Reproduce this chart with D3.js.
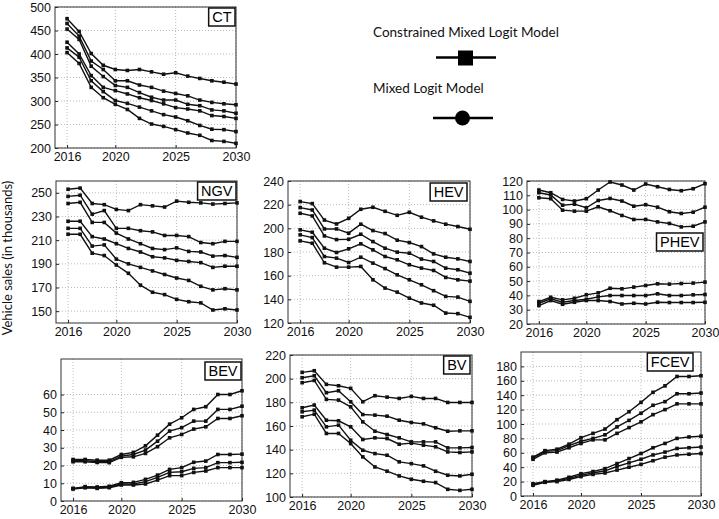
<!DOCTYPE html>
<html><head><meta charset="utf-8">
<script src="https://cdn.jsdelivr.net/npm/d3@7"></script>
<style>body{margin:0;background:#fff}svg{display:block}</style>
</head><body><svg id="c" width="719" height="519"></svg>
<script>
// ---------------- DATA ----------------
const years = [2016,2017,2018,2019,2020,2021,2022,2023,2024,2025,2026,2027,2028,2029,2030];
const xTickYears = [2016,2020,2025,2030];

const ctValues = [
  [475,448,401,376,367,365,367,362,357,360,353,348,343,340,336],
  [465,438,385,367,343,343,334,329,321,316,311,302,297,294,292],
  [453,431,374,352,333,329,318,308,302,302,293,290,281,279,274],
  [425,400,354,329,322,315,307,301,294,286,283,279,269,267,263],
  [413,393,343,320,301,295,287,279,271,266,258,248,240,239,235],
  [403,380,329,307,293,282,263,251,246,239,232,227,216,214,210]
];
const ctTicks = [200,250,300,350,400,450,500];

const ngvValues = [
  [253,254,241,240,236,235,240,239,238,243,242,241.5,240.5,241,241.5],
  [247,248,232,235,220,220,218,217,214,214,213,208,207,209,209],
  [241,242,225,225,216,211,207,203,202,203.5,200.5,200,196.5,197,195.5],
  [226,226,213,211,207,203,200,196,195,193,192,191,187,188,188],
  [220,220,205,206,194,190,187,184,181,178,176,171,168,169,168],
  [215,215,199,197,189,182,172,166,164,160,158,157,151,152,151]
];
const ngvTicks = [150,170,190,210,230,250];

const hevValues = [
  [222.6,220.9,207,203.7,208.5,216.1,217.8,214.4,211,213.6,209.4,206.3,203.5,201.5,199.2],
  [217.5,215.5,199.5,199.5,195.9,203.5,198.1,195.6,190,188,184.6,178.4,175.6,174.2,172],
  [212.7,210.5,193.6,190.5,190.8,195,188.8,183.2,179.9,179,174,172,166.4,165,162.1],
  [198.7,196.7,183.2,179.6,182.7,186.9,181.8,176.2,173.4,169.2,166.4,164.4,158.5,156.5,155.4],
  [194.5,192.2,176.2,174.8,171.1,175.6,170.6,166,160.7,156.5,152.3,147.3,142.5,141.9,138.3],
  [189.4,187.4,170.9,167.2,167.2,167.8,156.5,149.5,146.1,141,136.9,135,128.4,127.9,124.8]
];
const hevTicks = [120,140,160,180,200,220,240];

const phevValues = [
  [113.7,111.8,107.1,106,107.6,113.7,119.3,117.2,113.7,117.9,116,114.1,113.2,114.6,118.1],
  [111.8,110.2,103.1,103.8,101.3,106.4,107.8,106,102.4,103.4,101.7,98.5,97.3,98.2,101.7],
  [108.3,107.6,99.6,98.9,98.9,102,99.2,95.9,93.1,93.1,91.4,90.3,87.9,88.4,91.4],
  [35.7,38.7,36.9,38,40.4,41.8,45,44.6,45.8,46.9,48.1,47.9,48.3,48.6,49.3],
  [34.5,37.6,35.2,36.4,37.3,39,39.9,39.9,39.9,39.9,41.1,39.9,39.9,40.4,40.6],
  [32.9,36.4,33.8,35.2,36.4,36.4,35.7,34,34.5,34,35.2,35,35,35,35.2]
];
const phevTicks = [20,30,40,50,60,70,80,90,100,110,120];

const bevValues = [
  [23.4,23.4,23,23,26.2,27.4,31.1,37.1,43.3,46.9,51.6,53.1,60,60,62.1],
  [22.7,22.7,22.1,22.1,25.3,26.2,28.7,33.7,39.4,41.3,45,45,51.6,51.6,53.4],
  [22.1,22.1,21.7,21.6,24.6,24.9,26.8,30.6,35.6,37.5,40.5,41.8,46.5,46.5,48],
  [7.1,8.1,7.9,8.3,10.3,10.5,12.2,14.6,17.8,18.8,21.8,22.5,26.2,26.2,26.4],
  [7.0,7.7,7.5,7.9,9.6,9.6,10.9,13.3,16.1,16.5,18.4,18.8,21.6,21.6,21.8],
  [6.8,7.5,7.1,7.5,9,9,9.6,11.8,14.3,14.3,16.1,16.9,18.8,18.8,18.8]
];
const bevTicks = [0,10,20,30,40,50,60];

const bvValues = [
  [205.3,206.7,195.2,194,191.8,180.5,185.6,184.4,183.3,185,183.3,183.3,179.9,179.9,179.9],
  [200.8,202.5,188.1,189.8,180.5,169.7,169.2,168.3,164.9,163,161.8,158.5,155.6,155.9,155.9],
  [196.6,198.5,182.5,181.9,176.2,163.5,155.6,152.8,150,146.6,146.6,146.6,141.5,141.5,141.8],
  [175.4,177.7,164.9,164.4,159.3,148.6,150,149.4,144.6,145.5,143.8,142.4,138.1,137.6,138.1],
  [172,173.4,159.3,160.7,148,139.5,136.7,135.3,129.7,128.2,126.3,121.8,118.4,117.8,119.2],
  [167.8,170,153.7,153.7,145.2,133.9,125.4,121.8,117.8,115,113.3,112.2,106.5,105.6,106.5]
];
const bvTicks = [100,120,140,160,180,200,220];

const fcevValues = [
  [54,63,65,72,81,87,93,106,117,130,144,153,166,166,167],
  [53,62,63,70,76,80,85,96,105,115,126,131,142,142,143],
  [51,60,61,67,73,78,78,87,95,103,113,120,128,128,128],
  [17,20,22,26,31,34,38,45,52,59,67,73,80,82,83],
  [16,19.5,21,24.5,29,32,35,41,46,51,57,61,66,67,68],
  [15,19,20,23,27,30,32,36,40,44,49,54,57,58,59]
];
const fcevTicks = [0,20,40,60,80,100,120,140,160,180];

const legendLabels = ["Constrained Mixed Logit Model","Mixed Logit Model"];
const yAxisTitle = "Vehicle sales (in thousands)";

// ---------------- LAYOUT ----------------
const panels = [
  {name:"CT",   values:ctValues,   ticks:ctTicks,   domain:[200,500], x0:55,  x1:236, y0:7,   y1:148, lx:1, ly:1},
  {name:"NGV",  values:ngvValues,  ticks:ngvTicks,  domain:[140,260], x0:56,  x1:237, y0:181, y1:323, lx:1, ly:1},
  {name:"HEV",  values:hevValues,  ticks:hevTicks,  domain:[120,240], x0:288, x1:470, y0:181, y1:323, lx:3, ly:2},
  {name:"PHEV", values:phevValues, ticks:phevTicks, domain:[20,120],  x0:527, x1:705, y0:181, y1:324, lx:2, ly:52},
  {name:"BEV",  values:bevValues,  ticks:bevTicks,  domain:[0,80],    x0:61,  x1:242, y0:359, y1:501, lx:1, ly:3},
  {name:"BV",   values:bvValues,   ticks:bvTicks,   domain:[100,220], x0:290, x1:472, y0:355, y1:497, lx:2, ly:1},
  {name:"FCEV", values:fcevValues, ticks:fcevTicks, domain:[0,200],   x0:521, x1:701, y0:352, y1:496, lx:8, ly:1}
];

const svg = d3.select("#c");
const font = "'Liberation Sans', Arial, Helvetica, sans-serif";
const hfont = "Lato, 'Open Sans', sans-serif";

panels.forEach(p => {
  const x = d3.scaleLinear().domain([2015,2030]).range([p.x0,p.x1]);
  const y = d3.scaleLinear().domain(p.domain).range([p.y1,p.y0]);
  const g = svg.append("g");
  g.selectAll("line.gx").data(xTickYears).join("line").attr("class","gx")
    .attr("x1",d=>x(d)).attr("x2",d=>x(d)).attr("y1",p.y0).attr("y2",p.y1)
    .attr("stroke","#aaa").attr("stroke-width",0.8).attr("stroke-dasharray","1,2");
  g.selectAll("line.gy").data(p.ticks).join("line").attr("class","gy")
    .attr("x1",p.x0).attr("x2",p.x1).attr("y1",d=>y(d)).attr("y2",d=>y(d))
    .attr("stroke","#aaa").attr("stroke-width",0.8).attr("stroke-dasharray","1,2");
  const ax = d3.axisBottom(x).tickValues(xTickYears).tickFormat(d3.format("d")).tickSize(-3).tickPadding(4);
  const gx = g.append("g").attr("transform",`translate(0,${p.y1})`).call(ax);
  const ay = d3.axisLeft(y).tickValues(p.ticks).tickFormat(d3.format("d")).tickSize(-3).tickPadding(4);
  const gy = g.append("g").attr("transform",`translate(${p.x0},0)`).call(ay);
  [gx,gy].forEach(a=>{
    a.select(".domain").remove();
    a.selectAll("line").attr("stroke","#222");
    a.selectAll("text").attr("font-family",font).attr("font-size",12.5).attr("fill","#111");
  });
  g.append("rect").attr("x",p.x0).attr("y",p.y0).attr("width",p.x1-p.x0).attr("height",p.y1-p.y0)
    .attr("fill","none").attr("stroke","#333").attr("stroke-width",1);
  const line = d3.line().x((d,i)=>x(years[i])).y(d=>y(d));
  p.values.forEach(s=>{
    g.append("path").attr("d",line(s)).attr("fill","none").attr("stroke","#111").attr("stroke-width",1.4);
    g.selectAll(null).data(s).join("rect")
      .attr("x",(d,i)=>x(years[i])-1.8).attr("y",d=>y(d)-1.8).attr("width",3.6).attr("height",3.6).attr("fill","#111");
  });
  const lb = g.append("rect");
  const t = g.append("text").text(p.name).attr("font-family",font).attr("font-size",14.5)
    .attr("text-anchor","end").attr("fill","#000");
  const w = t.node().getComputedTextLength();
  const bw = w + 7, bh = 18;
  const bx = p.x1 - p.lx - bw, by = p.y0 + p.ly;
  lb.attr("x",bx).attr("y",by).attr("width",bw).attr("height",bh)
    .attr("fill","#fff").attr("stroke","#111").attr("stroke-width",1.5);
  t.attr("x",bx+bw-3.5).attr("y",by+bh-4);
});

svg.append("text").text(yAxisTitle).attr("transform","translate(12,258) rotate(-90)")
  .attr("text-anchor","middle").attr("font-family",hfont).attr("font-size",13).attr("fill","#111");

const lg = svg.append("g");
lg.append("text").text(legendLabels[0]).attr("x",373).attr("y",37).attr("font-family",hfont).attr("font-size",13.5).attr("fill","#111");
lg.append("line").attr("x1",436).attr("x2",496).attr("y1",57.5).attr("y2",57.5).attr("stroke","#000").attr("stroke-width",2.5);
lg.append("rect").attr("x",458).attr("y",50.5).attr("width",15).attr("height",15).attr("fill","#000");
lg.append("text").text(legendLabels[1]).attr("x",373).attr("y",93).attr("font-family",hfont).attr("font-size",13.5).attr("fill","#111");
lg.append("line").attr("x1",433).attr("x2",493).attr("y1",118).attr("y2",118).attr("stroke","#000").attr("stroke-width",2.5);
lg.append("circle").attr("cx",462.5).attr("cy",118).attr("r",7.5).attr("fill","#000");
</script></body></html>
